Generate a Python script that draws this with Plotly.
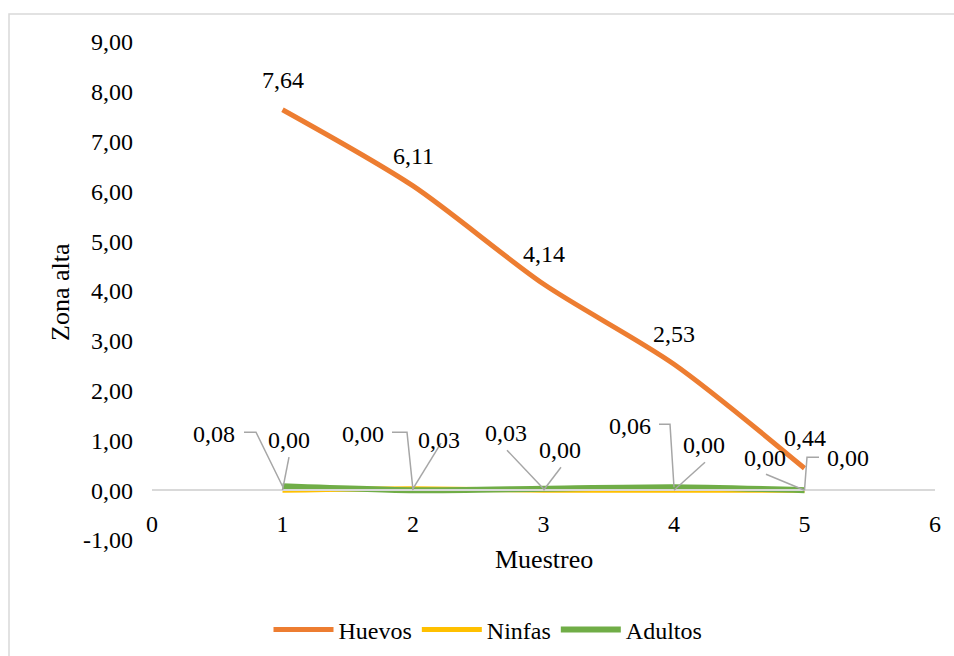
import plotly.graph_objects as go

# ---- data ----
muestreo = [1, 2, 3, 4, 5]
huevos = [7.64, 6.11, 4.14, 2.53, 0.44]
ninfas = [0.00, 0.03, 0.00, 0.00, 0.00]
adultos = [0.08, 0.00, 0.03, 0.06, 0.00]

y_ticks = [-1, 0, 1, 2, 3, 4, 5, 6, 7, 8, 9]
x_ticks = [0, 1, 2, 3, 4, 5, 6]

# ---- styling ----
FONT = "Liberation Serif"
TXT = "#000000"
ORANGE = "#ED7D31"
YELLOW = "#FFC000"
GREEN = "#70AD47"
LEADER = "#a6a6a6"

# label placement (pixel offsets from each point; dy positive = downwards)
ninfas_label_off = [(6.5, -50), (26, -48.5), (16.5, -40), (30, -45), (43.5, -32)]
ninfas_leaders = [[(6.5, -33)], [(28, -45.5)], [(17.5, -23)], [(31, -28)],
                  [(14.5, -33), (2.5, -33)]]
adultos_label_off = [(-68.5, -52.5), (-50, -56.5), (-37.5, -55.5), (-44, -61), (-39.5, -32)]
adultos_leaders = [[(-38.5, -54), (-26.5, -54)], [(-21, -58), (-6, -58)],
                   [(-36.5, -38.5)], [(-15, -63), (-4, -63)], [(-38.5, -16)]]


def fmt(v):
    return f"{v:.2f}".replace(".", ",")


fig = go.Figure()
fig.add_trace(go.Scatter(x=muestreo, y=huevos, name="Huevos", mode="lines",
                         line=dict(color=ORANGE, width=5, shape="spline", smoothing=0.8)))
fig.add_trace(go.Scatter(x=muestreo, y=ninfas, name="Ninfas", mode="lines",
                         line=dict(color=YELLOW, width=5, shape="spline", smoothing=0.8)))
fig.add_trace(go.Scatter(x=muestreo, y=adultos, name="Adultos", mode="lines",
                         line=dict(color=GREEN, width=6, shape="spline", smoothing=0.6)))

annotations = []
shapes = []

# value labels for Huevos, placed above each point
for xv, yv in zip(muestreo, huevos):
    annotations.append(dict(x=xv, y=yv, xref="x", yref="y", text=fmt(yv),
                            showarrow=False, xanchor="center", yanchor="middle",
                            yshift=30, font=dict(family=FONT, size=24, color=TXT)))

# value labels with leader lines for the near-zero series
for series, offs, leads in ((ninfas, ninfas_label_off, ninfas_leaders),
                            (adultos, adultos_label_off, adultos_leaders)):
    for xv, yv, (dx, dy), pts in zip(muestreo, series, offs, leads):
        annotations.append(dict(x=xv, y=yv, xref="x", yref="y", text=fmt(yv),
                                showarrow=False, xanchor="center", yanchor="middle",
                                xshift=dx, yshift=-dy,
                                font=dict(family=FONT, size=24, color=TXT)))
        path = "M " + " L ".join(f"{px},{-py}" for px, py in pts) + " L 0,0"
        shapes.append(dict(type="path", xref="x", yref="y", xsizemode="pixel",
                           ysizemode="pixel", xanchor=xv, yanchor=yv, path=path,
                           line=dict(color=LEADER, width=1.5)))

# geometry of the plotting area
L, R, T, B = 152, 19, 42, 116
W, H = 954 - L - R, 656 - T - B


def px_x(p):
    return (p - L) / W


def px_y(p):
    return (656 - B - p) / H


# chart frame
shapes.append(dict(type="rect", xref="paper", yref="paper",
                   x0=px_x(9), x1=px_x(962), y0=px_y(664), y1=px_y(14),
                   line=dict(color="#d9d9d9", width=1.5), layer="below"))

# axis titles
annotations.append(dict(x=0.5, y=px_y(559), xref="paper", yref="paper", text="Muestreo",
                        showarrow=False, xanchor="center", yanchor="middle",
                        font=dict(family=FONT, size=26, color=TXT)))
annotations.append(dict(x=px_x(60), y=px_y(292), xref="paper", yref="paper", text="Zona alta",
                        showarrow=False, xanchor="center", yanchor="middle", textangle=-90,
                        font=dict(family=FONT, size=26, color=TXT)))

fig.update_layout(
    width=954, height=656,
    margin=dict(l=L, r=R, t=T, b=B, autoexpand=False),
    paper_bgcolor="white", plot_bgcolor="white",
    font=dict(family=FONT, size=24, color=TXT),
    showlegend=True,
    legend=dict(orientation="h", x=px_x(488), y=px_y(630), xanchor="center",
                yanchor="middle", font=dict(family=FONT, size=24, color=TXT),
                bgcolor="rgba(0,0,0,0)", itemwidth=60, tracegroupgap=0),
    xaxis=dict(range=[0, 6], tickvals=x_ticks, ticktext=[str(v) for v in x_ticks],
               showgrid=False, zeroline=False, showline=True, linecolor="#d9d9d9",
               linewidth=2, ticks="", anchor="free", position=0.1,
               ticklabelstandoff=12, tickfont=dict(family=FONT, size=24, color=TXT)),
    yaxis=dict(range=[-1, 9], tickvals=y_ticks, ticktext=[fmt(v) for v in y_ticks],
               showgrid=False, zeroline=False, showline=False, ticks="",
               ticklabelstandoff=18, tickfont=dict(family=FONT, size=24, color=TXT)),
    annotations=annotations,
    shapes=shapes,
)

fig.write_html("out.html")
